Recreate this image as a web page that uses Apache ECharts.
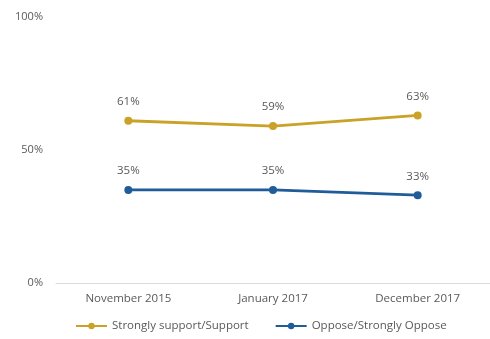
<!DOCTYPE html>
<html>
<head>
<meta charset="utf-8">
<script src="https://cdn.jsdelivr.net/npm/echarts@6/dist/echarts.min.js"></script>
<style>
html,body{margin:0;padding:0;background:#fff;}
#chart{width:490px;height:339px;}
</style>
</head>
<body>
<div id="chart"></div>
<script>
var categories = ['November 2015', 'January 2017', 'December 2017'];
var supportName = 'Strongly support/Support';
var supportData = [61, 59, 63];
var opposeName = 'Oppose/Strongly Oppose';
var opposeData = [35, 35, 33];

var textColor = '#595959';
var fontName = 'Open Sans';

function lineSeries(name, data, color){
	return {
		name: name,
		type: 'line',
		data: data,
		symbol: 'circle',
		symbolSize: 8,
		lineStyle: {color: color, width: 2.8},
		itemStyle: {color: color},
		label: {
			show: true,
			position: 'top',
			distance: 9,
			formatter: '{c}%',
			color: textColor,
			fontSize: 11.5,
			fontFamily: fontName
		}
	};
}

var myChart = echarts.init(document.getElementById('chart'));
var option = {
	animation: false,
	grid: {left: 56, right: 0, top: 17, bottom: 56},
	legend: {
		data: [supportName, opposeName],
		bottom: 2,
		left: 70,
		itemWidth: 31,
		itemHeight: 8,
		itemGap: 26,
		textStyle: {color: textColor, fontSize: 11.5, fontFamily: fontName}
	},
	xAxis: {
		type: 'category',
		data: categories,
		boundaryGap: true,
		axisLine: {lineStyle: {color: '#d9d9d9'}},
		axisTick: {show: false},
		axisLabel: {color: textColor, fontSize: 11.5, fontFamily: fontName, margin: 10}
	},
	yAxis: {
		type: 'value',
		min: 0,
		max: 100,
		interval: 50,
		splitLine: {show: false},
		axisLine: {show: false},
		axisTick: {show: false},
		axisLabel: {color: textColor, fontSize: 11, fontFamily: fontName, formatter: '{value}%', margin: 13}
	},
	series: [
		lineSeries(supportName, supportData, '#C9A227'),
		lineSeries(opposeName, opposeData, '#1F5C99')
	]
};
myChart.setOption(option);
</script>
</body>
</html>
